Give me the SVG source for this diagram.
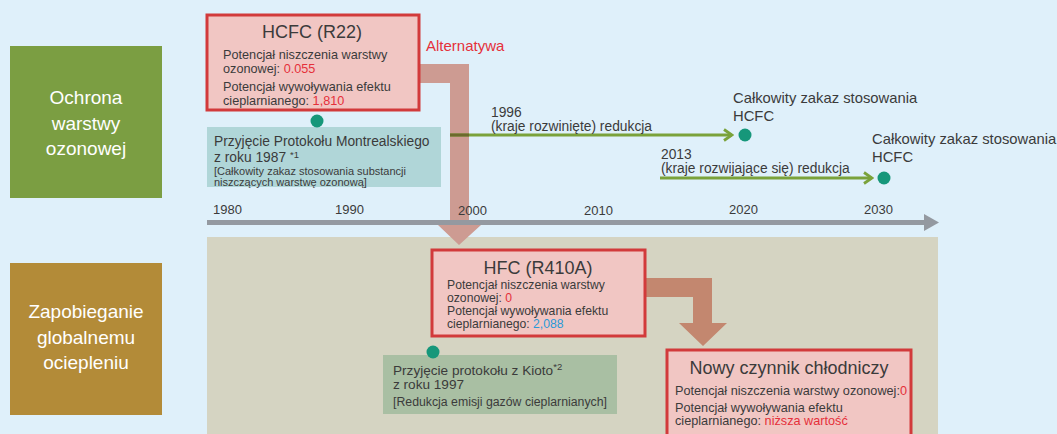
<svg xmlns="http://www.w3.org/2000/svg" width="1057" height="434" viewBox="0 0 1057 434">
  <style>
    text { font-family: "Liberation Sans", Arial, sans-serif; fill: #3b3b3b; }
    .cat { fill: #ffffff; font-size: 19px; text-anchor: middle; }
    .title { font-size: 18px; text-anchor: middle; }
    .small { font-size: 12.7px; }
    .tight { font-size: 12.2px; }
    .year { font-size: 13px; }
    .lbl { font-size: 13.8px; }
    .note { font-size: 11px; }
    .big { font-size: 14.8px; }
    .red { fill: #e5303a; }
    .blue { fill: #2a9ad8; }
    .refbox { fill: #f1c6c3; stroke: #d23a3b; stroke-width: 3; }
    .dot { fill: #16977a; }
    .green { stroke: #7aa23a; stroke-width: 3; fill: none; }
  </style>
  <defs>
    <marker id="chev" viewBox="0 0 12 14" refX="10" refY="7" markerWidth="12" markerHeight="14" orient="auto" markerUnits="userSpaceOnUse">
      <path d="M2,1.5 L10,7 L2,12.5" fill="none" stroke="#7aa23a" stroke-width="2.8"/>
    </marker>
  </defs>

  <!-- background -->
  <rect x="0" y="0" width="1057" height="434" fill="#dff0fa"/>
  <!-- lower band: global warming -->
  <rect x="207" y="237" width="731" height="197" fill="#d5d4c2"/>

  <!-- category boxes -->
  <g id="cat-ozone">
    <rect x="10" y="46" width="152" height="152" fill="#7b9e42"/>
    <text class="cat" x="86" y="104">Ochrona</text>
    <text class="cat" x="86" y="130">warstwy</text>
    <text class="cat" x="86" y="155">ozonowej</text>
  </g>
  <g id="cat-warming">
    <rect x="10" y="263" width="152" height="152" fill="#b38b38"/>
    <text class="cat" x="86" y="318">Zapobieganie</text>
    <text class="cat" x="86" y="344">globalnemu</text>
    <text class="cat" x="86" y="369">ociepleniu</text>
  </g>

  <!-- connectors -->
  <g id="connectors">
    <!-- HCFC -> HFC replacement arrow -->
    <path d="M418,64 H469 V225 H481 L459,245 L438,225 H450 V83 H418 Z" fill="#cd9b92"/>
    <!-- HFC -> new refrigerant arrow -->
    <path d="M645,278 H712 V323 H727 L703,346 L679,323 H693 V297 H645 Z" fill="#c3876f"/>
    <!-- timeline axis -->
    <line x1="207" y1="222.5" x2="926" y2="222.5" stroke="#9499a0" stroke-width="5"/>
    <path d="M924,214 L939,222.5 L924,231 Z" fill="#9499a0"/>
    <!-- reduction schedules -->
    <line class="green" x1="450" y1="135" x2="732" y2="135" marker-end="url(#chev)"/>
    <line x1="450" y1="135" x2="469" y2="135" stroke="#6c6a2c" stroke-width="3"/>
    <line class="green" x1="660" y1="178" x2="872" y2="178" marker-end="url(#chev)"/>
  </g>

  <!-- timeline years -->
  <g id="years">
    <text class="year" x="213" y="214">1980</text>
    <text class="year" x="335" y="214">1990</text>
    <text class="year" x="458" y="215">2000</text>
    <text class="year" x="584" y="215">2010</text>
    <text class="year" x="729" y="214">2020</text>
    <text class="year" x="864" y="214">2030</text>
  </g>

  <g id="hcfc">
    <rect class="refbox" x="207" y="15" width="212" height="95"/>
    <text class="title" x="312" y="38">HCFC (R22)</text>
    <text class="small" x="223" y="59">Potencjał niszczenia warstwy</text>
    <text class="small" x="223" y="73">ozonowej: <tspan class="red">0.055</tspan></text>
    <text class="small" x="223" y="91">Potencjał wywoływania efektu</text>
    <text class="small" x="223" y="105">cieplarnianego: <tspan class="red">1,810</tspan></text>
  </g>

  <text class="red" x="426" y="51" font-size="15">Alternatywa</text>

  <g id="montreal">
    <rect x="207" y="127" width="234" height="60" fill="#b0d6d8"/>
    <circle class="dot" cx="317" cy="121" r="6.5"/>
    <text class="lbl" x="214" y="146">Przyjęcie Protokołu Montrealskiego</text>
    <text class="lbl" x="214" y="162">z roku 1987 <tspan font-size="9.5" dy="-4">*1</tspan></text>
    <text class="note" x="214" y="175">[Całkowity zakaz stosowania substancji</text>
    <text class="note" x="214" y="186">niszczących warstwę ozonową]</text>
  </g>

  <g id="reduction-1996">
    <text class="lbl" x="491" y="117">1996</text>
    <text class="lbl" x="491" y="131">(kraje rozwinięte) redukcja</text>
  </g>
  <g id="ban-2020">
    <circle class="dot" cx="745" cy="135" r="6.5"/>
    <text class="big" x="733" y="103">Całkowity zakaz stosowania</text>
    <text class="big" x="733" y="121">HCFC</text>
  </g>

  <g id="reduction-2013">
    <text class="lbl" x="661" y="159">2013</text>
    <text class="lbl" x="661" y="173">(kraje rozwijające się) redukcja</text>
  </g>
  <g id="ban-2030">
    <circle class="dot" cx="884" cy="178" r="6.5"/>
    <text class="big" x="872" y="144">Całkowity zakaz stosowania</text>
    <text class="big" x="872" y="162">HCFC</text>
  </g>

  <g id="hfc">
    <rect class="refbox" x="432" y="250" width="213" height="86"/>
    <text class="title" x="538" y="274">HFC (R410A)</text>
    <text class="tight" x="447" y="289">Potencjał niszczenia warstwy</text>
    <text class="tight" x="447" y="301.5">ozonowej: <tspan class="red">0</tspan></text>
    <text class="tight" x="447" y="315">Potencjał wywoływania efektu</text>
    <text class="tight" x="447" y="327.5">cieplarnianego: <tspan class="blue">2,088</tspan></text>
  </g>

  <g id="kyoto">
    <rect x="383" y="355" width="234" height="59" fill="#a9bfa3"/>
    <circle class="dot" cx="433" cy="352" r="6.5"/>
    <text x="393" y="375" font-size="13.6">Przyjęcie protokołu z Kioto<tspan font-size="9.5" dy="-5">*2</tspan></text>
    <text x="393" y="389" font-size="13.6">z roku 1997</text>
    <text x="393" y="406" font-size="12.3">[Redukcja emisji gazów cieplarnianych]</text>
  </g>

  <g id="new-refrigerant">
    <rect class="refbox" x="667" y="350" width="244" height="90"/>
    <text class="title" x="789" y="374" font-size="19.5">Nowy czynnik chłodniczy</text>
    <text class="small" x="675" y="395">Potencjał niszczenia warstwy ozonowej:<tspan class="red">0</tspan></text>
    <text class="small" x="675" y="412">Potencjał wywoływania efektu</text>
    <text class="small" x="675" y="425">cieplarnianego: <tspan class="red">niższa wartość</tspan></text>
  </g>
</svg>
